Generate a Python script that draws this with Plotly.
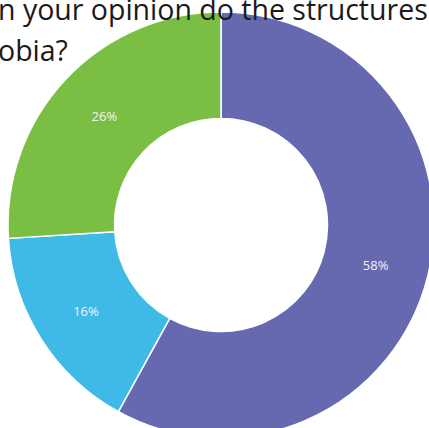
import plotly.graph_objects as go

labels = ["Yes", "Partly", "No"]
values = [58, 16, 26]
colors = ["#6669B0", "#3FBAE6", "#7ABF44"]
text_labels = ["58%", "16%", "26%"]
title_line1 = "n your opinion do the structures"
title_line2 = "obia?"

W, H = 442, 450
cx, cy, R = 221, 225, 213

fig = go.Figure(go.Pie(
    labels=labels,
    values=values,
    text=text_labels,
    textinfo="text",
    textposition="inside",
    insidetextorientation="horizontal",
    textfont=dict(family="Open Sans", size=13, color="#F2F2F8"),
    marker=dict(colors=colors, line=dict(color="white", width=1.5)),
    hole=0.5,
    sort=False,
    direction="clockwise",
    rotation=0,
    domain=dict(x=[(cx - R) / W, (cx + R) / W], y=[(H - cy - R) / H, (H - cy + R) / H]),
    showlegend=False,
    hoverinfo="label+percent",
))

fig.add_annotation(text=title_line1, xref="paper", yref="paper", x=-4 / W, y=1 - 9 / H,
                   xanchor="left", yanchor="middle", showarrow=False,
                   font=dict(family="Open Sans", size=28.5, color="#1A1A1A"))
fig.add_annotation(text=title_line2, xref="paper", yref="paper", x=-4 / W, y=1 - 50 / H,
                   xanchor="left", yanchor="middle", showarrow=False,
                   font=dict(family="Open Sans", size=28.5, color="#1A1A1A"))

fig.update_layout(
    width=W, height=H,
    margin=dict(l=0, r=0, t=0, b=0),
    paper_bgcolor="white",
    plot_bgcolor="white",
)

fig.write_html("out.html", config={"displayModeBar": False},
               post_script="document.body.style.margin='0';document.body.style.overflow='hidden';")
